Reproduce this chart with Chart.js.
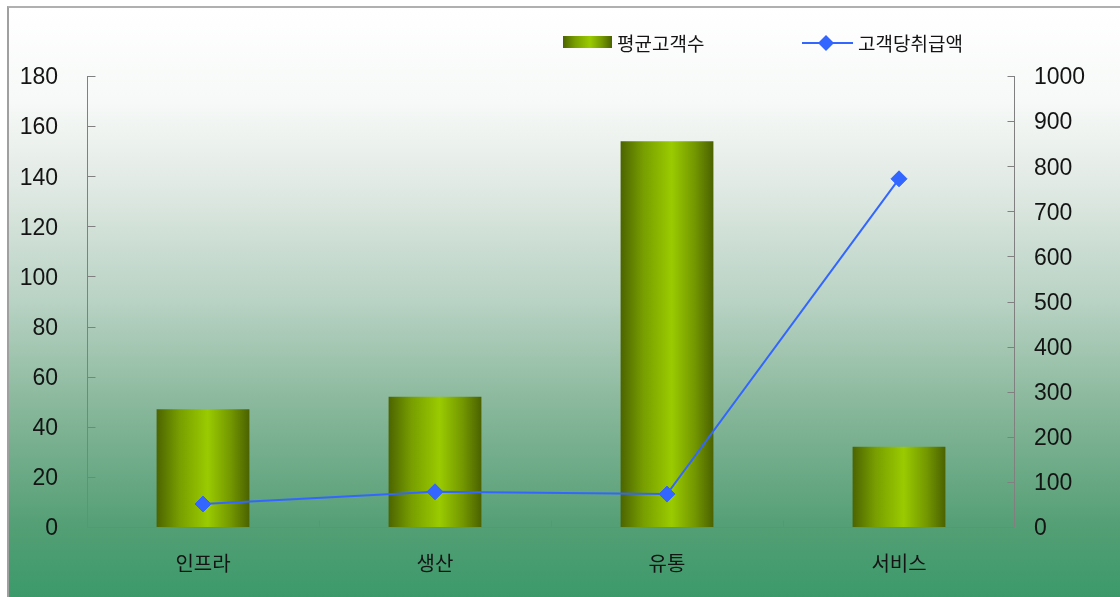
<!DOCTYPE html>
<html lang="ko">
<head>
<meta charset="utf-8">
<script src="https://cdn.jsdelivr.net/npm/chart.js@4.4.1/dist/chart.umd.min.js"></script>
<style>
  html, body { margin: 0; padding: 0; background: #fff; }
  #frame {
    position: absolute; left: 7px; top: 6px; width: 1113px; height: 591px;
    box-sizing: border-box;
    border-left: 2px solid #a0a0a0; border-top: 2px solid #b0b0b0;
    background: linear-gradient(to bottom,
      #ffffff 0%, #f6f9f7 16%, #e3ebe6 29%, #b8d2c3 50%,
      #82b496 70%, #549f75 88%, #3b9a6a 100%);
  }
  #wrap { position: absolute; left: 0; top: 0; width: 1120px; height: 597px; }
</style>
</head>
<body>
<div id="frame"></div>
<div id="wrap"><canvas id="c" width="1120" height="597"></canvas></div>
<script>
// 업종별 평균 고객수(왼쪽 축) / 고객당 취급액(오른쪽 축)
var categories = ['인프라', '생산', '유통', '서비스'];
var avgCustomers = [47, 52, 154, 32];
var amountPerCustomer = [51, 78, 73, 772];
var leftMax = 180, leftStep = 20;
var rightMax = 1000, rightStep = 100;

var BAR_PCT = 0.4;
var AXIS = '#808080';
var TEXT = '#141414';
var NUM_FONT = '"Liberation Sans", Arial, sans-serif';
var KR_FONT = '"Noto Sans CJK KR", "Noto Sans", sans-serif';

function barGradient(ctx, x0, x1) {
  var g = ctx.createLinearGradient(x0, 0, x1, 0);
  g.addColorStop(0, '#4d6400');
  g.addColorStop(0.25, '#789f00');
  g.addColorStop(0.55, '#9acb00');
  g.addColorStop(0.8, '#739700');
  g.addColorStop(1, '#4b6200');
  return g;
}

function diamond(ctx, x, y, r, color) {
  ctx.beginPath();
  ctx.moveTo(x, y - r); ctx.lineTo(x + r, y); ctx.lineTo(x, y + r); ctx.lineTo(x - r, y);
  ctx.closePath();
  ctx.fillStyle = color; ctx.fill();
}

// 축선과 눈금: 그림처럼 눈금은 축 안쪽으로
var axesAndTicks = {
  id: 'axesAndTicks',
  beforeDatasetsDraw: function(chart) {
    var ctx = chart.ctx, a = chart.chartArea;
    var y = chart.scales.y, y1 = chart.scales.y1, x = chart.scales.x;
    var L = Math.round(a.left) + 0.5, R = Math.round(a.right) - 0.5, B = Math.round(a.bottom) + 0.5;
    ctx.save();
    ctx.strokeStyle = AXIS; ctx.lineWidth = 1;
    ctx.beginPath();
    ctx.moveTo(L, Math.round(a.top)); ctx.lineTo(L, B);
    ctx.moveTo(R, Math.round(a.top)); ctx.lineTo(R, B);
    ctx.moveTo(L, B); ctx.lineTo(R, B);
    y.ticks.forEach(function(t) {
      var py = Math.round(y.getPixelForValue(t.value)) + 0.5;
      ctx.moveTo(L, py); ctx.lineTo(L + 8, py);
    });
    y1.ticks.forEach(function(t) {
      var py = Math.round(y1.getPixelForValue(t.value)) + 0.5;
      ctx.moveTo(R - 7, py); ctx.lineTo(R, py);
    });
    var half = x.width / categories.length / 2;
    for (var i = 0; i < categories.length - 1; i++) {
      var px = Math.round(x.getPixelForValue(i) + half) + 0.5;
      ctx.moveTo(px, B); ctx.lineTo(px, B - 7);
    }
    ctx.stroke();
    ctx.restore();
  }
};

var customLegend = {
  id: 'customLegend',
  afterDraw: function(chart) {
    var ctx = chart.ctx, ds = chart.data.datasets;
    ctx.save();
    ctx.font = '19px ' + KR_FONT;
    ctx.textBaseline = 'middle';
    ctx.fillStyle = barGradient(ctx, 563, 612);
    ctx.fillRect(563, 36, 49, 12);
    ctx.fillStyle = TEXT;
    ctx.fillText(ds[0].label, 617, 44);

    ctx.strokeStyle = ds[1].borderColor; ctx.lineWidth = 2;
    ctx.beginPath(); ctx.moveTo(802, 43); ctx.lineTo(853, 43); ctx.stroke();
    diamond(ctx, 826, 43, 8, ds[1].borderColor);
    ctx.fillStyle = TEXT;
    ctx.fillText(ds[1].label, 858, 44);
    ctx.restore();
  }
};

function plainNumber(v) { return String(v); }

new Chart(document.getElementById('c'), {
  data: {
    labels: categories,
    datasets: [{
      type: 'bar',
      label: '평균고객수',
      data: avgCustomers,
      yAxisID: 'y',
      order: 1,
      barPercentage: BAR_PCT,
      categoryPercentage: 1,
      backgroundColor: function(c) {
        var chart = c.chart;
        if (!chart.chartArea) return '#88b000';
        var xs = chart.scales.x;
        var cx = xs.getPixelForValue(c.dataIndex);
        var w = xs.width / categories.length * BAR_PCT;
        return barGradient(chart.ctx, cx - w / 2, cx + w / 2);
      }
    }, {
      type: 'line',
      label: '고객당취급액',
      data: amountPerCustomer,
      yAxisID: 'y1',
      order: 0,
      borderColor: '#3366ff',
      backgroundColor: '#3366ff',
      borderWidth: 2,
      pointStyle: 'rectRot',
      pointRadius: 8,
      pointBorderWidth: 1,
      pointBackgroundColor: '#3366ff',
      pointBorderColor: '#3366ff',
      tension: 0
    }]
  },
  options: {
    responsive: false,
    animation: false,
    layout: { padding: { top: 76, left: 0, right: 0, bottom: 0 } },
    plugins: { legend: { display: false }, tooltip: { enabled: false } },
    scales: {
      x: {
        offset: true,
        grid: { display: false, drawTicks: false },
        border: { display: false },
        ticks: { font: { family: KR_FONT, size: 20 }, color: TEXT, padding: 24 },
        afterFit: function(s) { s.height = 70; }
      },
      y: {
        position: 'left',
        min: 0, max: leftMax,
        grid: { display: false, drawTicks: false },
        border: { display: false },
        ticks: { stepSize: leftStep, font: { family: NUM_FONT, size: 23 }, color: TEXT, padding: 29, labelOffset: 2, callback: plainNumber },
        afterFit: function(s) { s.width = 87; }
      },
      y1: {
        position: 'right',
        min: 0, max: rightMax,
        grid: { display: false, drawTicks: false },
        border: { display: false },
        ticks: { stepSize: rightStep, font: { family: NUM_FONT, size: 23 }, color: TEXT, padding: 19, labelOffset: 2, callback: plainNumber },
        afterFit: function(s) { s.width = 105; }
      }
    }
  },
  plugins: [axesAndTicks, customLegend]
});
</script>
</body>
</html>
